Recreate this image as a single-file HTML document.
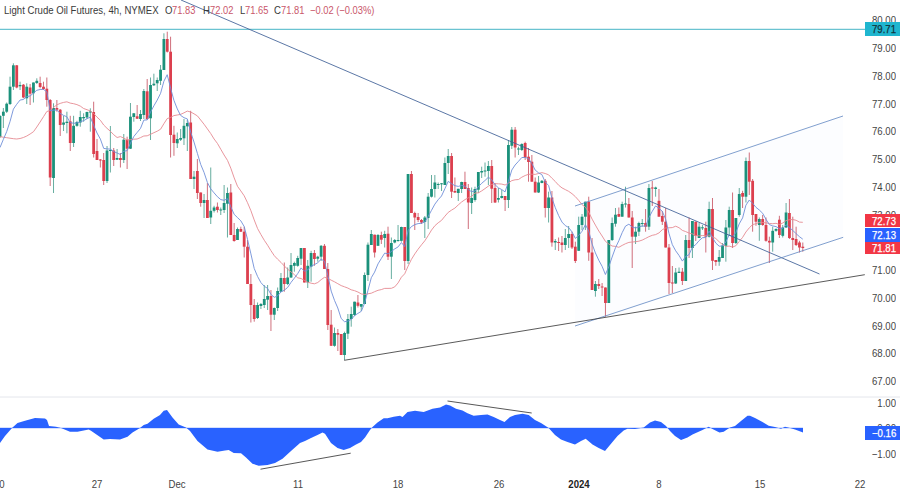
<!DOCTYPE html>
<html><head><meta charset="utf-8"><title>Chart</title>
<style>
html,body{margin:0;padding:0;background:#fff;}
body{width:900px;height:493px;position:relative;overflow:hidden;font-family:"Liberation Sans",sans-serif;color:#3c3c3c;font-size:10.8px;line-height:12px}
.pl{position:absolute;right:4.2px;width:60px;text-align:right;height:12px;color:#444;transform:scaleX(0.888);transform-origin:100% 50%;white-space:nowrap}
.tl{position:absolute;top:478.2px;width:40px;text-align:center;color:#444;transform:scaleX(0.888);transform-origin:50% 50%}
.tl.b{font-weight:bold;color:#222}
.tag{position:absolute;left:865.3px;width:34.7px;color:#fff;overflow:hidden}
.tag span{-webkit-text-stroke:0.25px currentColor;position:absolute;left:6.8px;top:50%;margin-top:-6px;height:12px;white-space:nowrap;transform:scaleX(0.888);transform-origin:0 50%}
.t{position:absolute;top:4px;white-space:nowrap;color:#3a3a3a;transform:scaleX(0.888);transform-origin:0 50%}
.t.r{color:#c9566a;transform:scaleX(0.865)}
</style></head><body>
<svg width="900" height="493" viewBox="0 0 900 493" style="position:absolute;left:0;top:0"><polygon points="575,206 843,116 843.2,237.3 575,326" fill="#2962ff" fill-opacity="0.012"/><line x1="0" y1="29.3" x2="866" y2="29.3" stroke="#45b5c6" stroke-width="1"/><line x1="0" y1="397" x2="900" y2="397" stroke="#e4e6ec" stroke-width="1"/><line x1="0.00" y1="115.0" x2="0.00" y2="138.0" stroke="#3f9886" stroke-width="0.8"/><rect x="-1.40" y="116.0" width="2.8" height="21.0" fill="#1b917b"/><line x1="3.35" y1="108.0" x2="3.35" y2="128.0" stroke="#3f9886" stroke-width="0.8"/><rect x="1.95" y="111.7" width="2.8" height="4.1" fill="#1b917b"/><line x1="6.69" y1="102.5" x2="6.69" y2="113.0" stroke="#3f9886" stroke-width="0.8"/><rect x="5.29" y="103.7" width="2.8" height="8.0" fill="#1b917b"/><line x1="10.04" y1="76.7" x2="10.04" y2="105.0" stroke="#3f9886" stroke-width="0.8"/><rect x="8.63" y="86.7" width="2.8" height="17.3" fill="#1b917b"/><line x1="13.38" y1="63.3" x2="13.38" y2="90.0" stroke="#3f9886" stroke-width="0.8"/><rect x="11.98" y="65.3" width="2.8" height="21.4" fill="#1b917b"/><line x1="16.73" y1="65.0" x2="16.73" y2="88.3" stroke="#c44a5a" stroke-width="0.8"/><rect x="15.33" y="65.3" width="2.8" height="22.2" fill="#dc3f4e"/><line x1="20.07" y1="81.7" x2="20.07" y2="90.0" stroke="#3f9886" stroke-width="0.8"/><rect x="18.67" y="85.0" width="2.8" height="1.3" fill="#1b917b"/><line x1="23.42" y1="84.0" x2="23.42" y2="98.3" stroke="#c44a5a" stroke-width="0.8"/><rect x="22.02" y="84.7" width="2.8" height="12.8" fill="#dc3f4e"/><line x1="26.76" y1="83.3" x2="26.76" y2="104.0" stroke="#3f9886" stroke-width="0.8"/><rect x="25.36" y="86.7" width="2.8" height="11.6" fill="#1b917b"/><line x1="30.11" y1="84.0" x2="30.11" y2="105.0" stroke="#c44a5a" stroke-width="0.8"/><rect x="28.71" y="87.5" width="2.8" height="6.2" fill="#dc3f4e"/><line x1="33.45" y1="82.5" x2="33.45" y2="102.5" stroke="#3f9886" stroke-width="0.8"/><rect x="32.05" y="82.5" width="2.8" height="10.8" fill="#1b917b"/><line x1="36.80" y1="78.3" x2="36.80" y2="84.0" stroke="#3f9886" stroke-width="0.8"/><rect x="35.40" y="80.8" width="2.8" height="2.2" fill="#1b917b"/><line x1="40.14" y1="76.7" x2="40.14" y2="88.3" stroke="#c44a5a" stroke-width="0.8"/><rect x="38.74" y="83.0" width="2.8" height="4.0" fill="#dc3f4e"/><line x1="43.48" y1="81.7" x2="43.48" y2="90.0" stroke="#c44a5a" stroke-width="0.8"/><rect x="42.09" y="86.7" width="2.8" height="2.3" fill="#dc3f4e"/><line x1="46.83" y1="77.5" x2="46.83" y2="106.7" stroke="#c44a5a" stroke-width="0.8"/><rect x="45.43" y="88.7" width="2.8" height="11.3" fill="#dc3f4e"/><line x1="50.18" y1="99.0" x2="50.18" y2="186.0" stroke="#c44a5a" stroke-width="0.8"/><rect x="48.78" y="100.0" width="2.8" height="77.5" fill="#dc3f4e"/><line x1="53.52" y1="103.3" x2="53.52" y2="193.0" stroke="#3f9886" stroke-width="0.8"/><rect x="52.12" y="108.0" width="2.8" height="70.0" fill="#1b917b"/><line x1="56.87" y1="100.0" x2="56.87" y2="111.7" stroke="#c44a5a" stroke-width="0.8"/><rect x="55.47" y="108.0" width="2.8" height="1.7" fill="#dc3f4e"/><line x1="60.21" y1="109.0" x2="60.21" y2="136.0" stroke="#c44a5a" stroke-width="0.8"/><rect x="58.81" y="109.7" width="2.8" height="15.3" fill="#dc3f4e"/><line x1="63.56" y1="115.8" x2="63.56" y2="131.0" stroke="#3f9886" stroke-width="0.8"/><rect x="62.16" y="122.5" width="2.8" height="2.2" fill="#1b917b"/><line x1="66.90" y1="111.7" x2="66.90" y2="133.3" stroke="#3f9886" stroke-width="0.8"/><rect x="65.50" y="121.7" width="2.8" height="1.3" fill="#1b917b"/><line x1="70.25" y1="115.8" x2="70.25" y2="151.0" stroke="#c44a5a" stroke-width="0.8"/><rect x="68.84" y="121.3" width="2.8" height="21.7" fill="#dc3f4e"/><line x1="73.59" y1="115.8" x2="73.59" y2="147.0" stroke="#3f9886" stroke-width="0.8"/><rect x="72.19" y="125.8" width="2.8" height="17.2" fill="#1b917b"/><line x1="76.94" y1="120.8" x2="76.94" y2="126.7" stroke="#3f9886" stroke-width="0.8"/><rect x="75.53" y="122.0" width="2.8" height="3.8" fill="#1b917b"/><line x1="80.28" y1="110.8" x2="80.28" y2="126.7" stroke="#3f9886" stroke-width="0.8"/><rect x="78.88" y="117.0" width="2.8" height="5.5" fill="#1b917b"/><line x1="83.62" y1="113.3" x2="83.62" y2="121.7" stroke="#3f9886" stroke-width="0.8"/><rect x="82.22" y="117.0" width="2.8" height="1.3" fill="#1b917b"/><line x1="86.97" y1="111.7" x2="86.97" y2="119.0" stroke="#3f9886" stroke-width="0.8"/><rect x="85.57" y="112.0" width="2.8" height="5.5" fill="#1b917b"/><line x1="90.32" y1="108.3" x2="90.32" y2="131.7" stroke="#3f9886" stroke-width="0.8"/><rect x="88.92" y="111.5" width="2.8" height="1.0" fill="#1b917b"/><line x1="93.66" y1="101.7" x2="93.66" y2="157.5" stroke="#c44a5a" stroke-width="0.8"/><rect x="92.26" y="112.0" width="2.8" height="42.0" fill="#dc3f4e"/><line x1="97.01" y1="139.0" x2="97.01" y2="160.0" stroke="#c44a5a" stroke-width="0.8"/><rect x="95.61" y="151.0" width="2.8" height="9.0" fill="#dc3f4e"/><line x1="100.35" y1="159.0" x2="100.35" y2="167.5" stroke="#c44a5a" stroke-width="0.8"/><rect x="98.95" y="159.5" width="2.8" height="1.0" fill="#dc3f4e"/><line x1="103.70" y1="153.0" x2="103.70" y2="185.0" stroke="#c44a5a" stroke-width="0.8"/><rect x="102.30" y="160.0" width="2.8" height="21.0" fill="#dc3f4e"/><line x1="107.04" y1="146.0" x2="107.04" y2="183.0" stroke="#3f9886" stroke-width="0.8"/><rect x="105.64" y="150.5" width="2.8" height="30.5" fill="#1b917b"/><line x1="110.39" y1="126.0" x2="110.39" y2="172.5" stroke="#3f9886" stroke-width="0.8"/><rect x="108.98" y="150.0" width="2.8" height="1.0" fill="#1b917b"/><line x1="113.73" y1="148.0" x2="113.73" y2="166.0" stroke="#c44a5a" stroke-width="0.8"/><rect x="112.33" y="150.5" width="2.8" height="9.5" fill="#dc3f4e"/><line x1="117.08" y1="149.0" x2="117.08" y2="160.0" stroke="#3f9886" stroke-width="0.8"/><rect x="115.67" y="158.0" width="2.8" height="1.7" fill="#1b917b"/><line x1="120.42" y1="153.0" x2="120.42" y2="167.5" stroke="#c44a5a" stroke-width="0.8"/><rect x="119.02" y="158.0" width="2.8" height="2.0" fill="#dc3f4e"/><line x1="123.77" y1="134.0" x2="123.77" y2="163.0" stroke="#3f9886" stroke-width="0.8"/><rect x="122.36" y="139.7" width="2.8" height="20.3" fill="#1b917b"/><line x1="127.11" y1="136.7" x2="127.11" y2="169.0" stroke="#c44a5a" stroke-width="0.8"/><rect x="125.71" y="139.7" width="2.8" height="9.0" fill="#dc3f4e"/><line x1="130.46" y1="103.0" x2="130.46" y2="149.0" stroke="#3f9886" stroke-width="0.8"/><rect x="129.06" y="116.7" width="2.8" height="32.0" fill="#1b917b"/><line x1="133.80" y1="113.0" x2="133.80" y2="121.7" stroke="#3f9886" stroke-width="0.8"/><rect x="132.40" y="113.3" width="2.8" height="3.7" fill="#1b917b"/><line x1="137.15" y1="105.0" x2="137.15" y2="119.0" stroke="#c44a5a" stroke-width="0.8"/><rect x="135.75" y="116.3" width="2.8" height="2.4" fill="#dc3f4e"/><line x1="140.49" y1="110.0" x2="140.49" y2="121.0" stroke="#3f9886" stroke-width="0.8"/><rect x="139.09" y="114.0" width="2.8" height="5.0" fill="#1b917b"/><line x1="143.84" y1="89.0" x2="143.84" y2="119.0" stroke="#3f9886" stroke-width="0.8"/><rect x="142.44" y="91.0" width="2.8" height="24.0" fill="#1b917b"/><line x1="147.18" y1="79.0" x2="147.18" y2="120.0" stroke="#c44a5a" stroke-width="0.8"/><rect x="145.78" y="91.3" width="2.8" height="27.7" fill="#dc3f4e"/><line x1="150.53" y1="77.5" x2="150.53" y2="140.0" stroke="#3f9886" stroke-width="0.8"/><rect x="149.12" y="85.0" width="2.8" height="33.3" fill="#1b917b"/><line x1="153.87" y1="73.7" x2="153.87" y2="86.0" stroke="#3f9886" stroke-width="0.8"/><rect x="152.47" y="83.7" width="2.8" height="1.6" fill="#1b917b"/><line x1="157.22" y1="77.5" x2="157.22" y2="91.0" stroke="#3f9886" stroke-width="0.8"/><rect x="155.81" y="80.0" width="2.8" height="3.3" fill="#1b917b"/><line x1="160.56" y1="65.0" x2="160.56" y2="85.0" stroke="#3f9886" stroke-width="0.8"/><rect x="159.16" y="69.7" width="2.8" height="11.1" fill="#1b917b"/><line x1="163.91" y1="33.3" x2="163.91" y2="70.0" stroke="#3f9886" stroke-width="0.8"/><rect x="162.50" y="39.0" width="2.8" height="31.0" fill="#1b917b"/><line x1="167.25" y1="31.7" x2="167.25" y2="52.5" stroke="#c44a5a" stroke-width="0.8"/><rect x="165.85" y="39.0" width="2.8" height="12.7" fill="#dc3f4e"/><line x1="170.59" y1="36.7" x2="170.59" y2="157.5" stroke="#c44a5a" stroke-width="0.8"/><rect x="169.19" y="51.7" width="2.8" height="83.3" fill="#dc3f4e"/><line x1="173.94" y1="125.8" x2="173.94" y2="155.8" stroke="#c44a5a" stroke-width="0.8"/><rect x="172.54" y="134.7" width="2.8" height="8.3" fill="#dc3f4e"/><line x1="177.28" y1="132.5" x2="177.28" y2="148.0" stroke="#3f9886" stroke-width="0.8"/><rect x="175.88" y="139.0" width="2.8" height="4.3" fill="#1b917b"/><line x1="180.63" y1="129.0" x2="180.63" y2="141.0" stroke="#3f9886" stroke-width="0.8"/><rect x="179.23" y="138.0" width="2.8" height="1.7" fill="#1b917b"/><line x1="183.98" y1="119.0" x2="183.98" y2="145.0" stroke="#3f9886" stroke-width="0.8"/><rect x="182.58" y="125.8" width="2.8" height="12.5" fill="#1b917b"/><line x1="187.32" y1="120.0" x2="187.32" y2="151.0" stroke="#3f9886" stroke-width="0.8"/><rect x="185.92" y="123.0" width="2.8" height="3.3" fill="#1b917b"/><line x1="190.67" y1="110.8" x2="190.67" y2="179.0" stroke="#c44a5a" stroke-width="0.8"/><rect x="189.27" y="122.5" width="2.8" height="56.5" fill="#dc3f4e"/><line x1="194.01" y1="171.0" x2="194.01" y2="189.0" stroke="#3f9886" stroke-width="0.8"/><rect x="192.61" y="176.7" width="2.8" height="2.3" fill="#1b917b"/><line x1="197.36" y1="159.0" x2="197.36" y2="199.0" stroke="#c44a5a" stroke-width="0.8"/><rect x="195.96" y="171.0" width="2.8" height="22.0" fill="#dc3f4e"/><line x1="200.70" y1="192.5" x2="200.70" y2="206.7" stroke="#c44a5a" stroke-width="0.8"/><rect x="199.30" y="192.5" width="2.8" height="10.5" fill="#dc3f4e"/><line x1="204.05" y1="194.0" x2="204.05" y2="218.0" stroke="#3f9886" stroke-width="0.8"/><rect x="202.65" y="200.0" width="2.8" height="3.0" fill="#1b917b"/><line x1="207.39" y1="183.0" x2="207.39" y2="218.0" stroke="#c44a5a" stroke-width="0.8"/><rect x="205.99" y="200.0" width="2.8" height="18.0" fill="#dc3f4e"/><line x1="210.74" y1="167.5" x2="210.74" y2="224.0" stroke="#3f9886" stroke-width="0.8"/><rect x="209.34" y="210.8" width="2.8" height="6.7" fill="#1b917b"/><line x1="214.08" y1="205.8" x2="214.08" y2="212.5" stroke="#3f9886" stroke-width="0.8"/><rect x="212.68" y="207.5" width="2.8" height="3.3" fill="#1b917b"/><line x1="217.43" y1="202.5" x2="217.43" y2="212.5" stroke="#c44a5a" stroke-width="0.8"/><rect x="216.03" y="206.7" width="2.8" height="3.3" fill="#dc3f4e"/><line x1="220.77" y1="207.5" x2="220.77" y2="215.0" stroke="#3f9886" stroke-width="0.8"/><rect x="219.37" y="209.5" width="2.8" height="1.0" fill="#1b917b"/><line x1="224.12" y1="185.0" x2="224.12" y2="213.0" stroke="#3f9886" stroke-width="0.8"/><rect x="222.72" y="203.0" width="2.8" height="7.0" fill="#1b917b"/><line x1="227.46" y1="187.5" x2="227.46" y2="237.5" stroke="#3f9886" stroke-width="0.8"/><rect x="226.06" y="193.0" width="2.8" height="10.7" fill="#1b917b"/><line x1="230.81" y1="184.0" x2="230.81" y2="235.0" stroke="#c44a5a" stroke-width="0.8"/><rect x="229.41" y="192.5" width="2.8" height="42.5" fill="#dc3f4e"/><line x1="234.15" y1="223.0" x2="234.15" y2="241.7" stroke="#c44a5a" stroke-width="0.8"/><rect x="232.75" y="235.0" width="2.8" height="6.0" fill="#dc3f4e"/><line x1="237.50" y1="227.5" x2="237.50" y2="240.0" stroke="#3f9886" stroke-width="0.8"/><rect x="236.09" y="229.0" width="2.8" height="11.0" fill="#1b917b"/><line x1="240.84" y1="226.7" x2="240.84" y2="232.0" stroke="#c44a5a" stroke-width="0.8"/><rect x="239.44" y="229.0" width="2.8" height="2.7" fill="#dc3f4e"/><line x1="244.19" y1="226.7" x2="244.19" y2="257.5" stroke="#c44a5a" stroke-width="0.8"/><rect x="242.78" y="231.7" width="2.8" height="15.0" fill="#dc3f4e"/><line x1="247.53" y1="240.0" x2="247.53" y2="284.0" stroke="#c44a5a" stroke-width="0.8"/><rect x="246.13" y="246.7" width="2.8" height="37.3" fill="#dc3f4e"/><line x1="250.88" y1="274.0" x2="250.88" y2="322.5" stroke="#c44a5a" stroke-width="0.8"/><rect x="249.48" y="284.0" width="2.8" height="21.0" fill="#dc3f4e"/><line x1="254.22" y1="299.0" x2="254.22" y2="321.7" stroke="#c44a5a" stroke-width="0.8"/><rect x="252.82" y="305.0" width="2.8" height="14.0" fill="#dc3f4e"/><line x1="257.56" y1="302.5" x2="257.56" y2="319.0" stroke="#3f9886" stroke-width="0.8"/><rect x="256.17" y="305.0" width="2.8" height="13.0" fill="#1b917b"/><line x1="260.91" y1="303.0" x2="260.91" y2="309.0" stroke="#3f9886" stroke-width="0.8"/><rect x="259.51" y="304.0" width="2.8" height="2.0" fill="#1b917b"/><line x1="264.25" y1="285.0" x2="264.25" y2="308.0" stroke="#3f9886" stroke-width="0.8"/><rect x="262.86" y="299.0" width="2.8" height="6.0" fill="#1b917b"/><line x1="267.60" y1="285.0" x2="267.60" y2="310.0" stroke="#3f9886" stroke-width="0.8"/><rect x="266.20" y="296.0" width="2.8" height="3.7" fill="#1b917b"/><line x1="270.94" y1="290.0" x2="270.94" y2="331.0" stroke="#c44a5a" stroke-width="0.8"/><rect x="269.55" y="296.0" width="2.8" height="18.7" fill="#dc3f4e"/><line x1="274.29" y1="307.5" x2="274.29" y2="320.0" stroke="#3f9886" stroke-width="0.8"/><rect x="272.89" y="308.0" width="2.8" height="6.7" fill="#1b917b"/><line x1="277.63" y1="287.5" x2="277.63" y2="311.0" stroke="#3f9886" stroke-width="0.8"/><rect x="276.24" y="291.0" width="2.8" height="17.0" fill="#1b917b"/><line x1="280.98" y1="273.0" x2="280.98" y2="292.0" stroke="#3f9886" stroke-width="0.8"/><rect x="279.58" y="278.0" width="2.8" height="13.7" fill="#1b917b"/><line x1="284.32" y1="262.5" x2="284.32" y2="291.7" stroke="#c44a5a" stroke-width="0.8"/><rect x="282.93" y="278.0" width="2.8" height="6.0" fill="#dc3f4e"/><line x1="287.67" y1="267.5" x2="287.67" y2="285.0" stroke="#3f9886" stroke-width="0.8"/><rect x="286.27" y="277.5" width="2.8" height="6.5" fill="#1b917b"/><line x1="291.02" y1="253.0" x2="291.02" y2="278.0" stroke="#3f9886" stroke-width="0.8"/><rect x="289.62" y="265.0" width="2.8" height="12.5" fill="#1b917b"/><line x1="294.36" y1="261.7" x2="294.36" y2="271.7" stroke="#3f9886" stroke-width="0.8"/><rect x="292.96" y="263.0" width="2.8" height="2.8" fill="#1b917b"/><line x1="297.71" y1="255.8" x2="297.71" y2="266.7" stroke="#3f9886" stroke-width="0.8"/><rect x="296.31" y="258.0" width="2.8" height="7.8" fill="#1b917b"/><line x1="301.05" y1="248.0" x2="301.05" y2="265.0" stroke="#3f9886" stroke-width="0.8"/><rect x="299.65" y="248.0" width="2.8" height="10.7" fill="#1b917b"/><line x1="304.40" y1="248.0" x2="304.40" y2="282.5" stroke="#c44a5a" stroke-width="0.8"/><rect x="303.00" y="248.0" width="2.8" height="34.5" fill="#dc3f4e"/><line x1="307.74" y1="260.0" x2="307.74" y2="288.0" stroke="#3f9886" stroke-width="0.8"/><rect x="306.34" y="265.8" width="2.8" height="16.7" fill="#1b917b"/><line x1="311.09" y1="250.8" x2="311.09" y2="281.7" stroke="#3f9886" stroke-width="0.8"/><rect x="309.69" y="253.0" width="2.8" height="13.7" fill="#1b917b"/><line x1="314.43" y1="250.0" x2="314.43" y2="265.8" stroke="#c44a5a" stroke-width="0.8"/><rect x="313.03" y="253.0" width="2.8" height="6.0" fill="#dc3f4e"/><line x1="317.78" y1="255.8" x2="317.78" y2="261.7" stroke="#3f9886" stroke-width="0.8"/><rect x="316.38" y="256.7" width="2.8" height="2.0" fill="#1b917b"/><line x1="321.12" y1="245.0" x2="321.12" y2="261.0" stroke="#3f9886" stroke-width="0.8"/><rect x="319.72" y="245.8" width="2.8" height="10.9" fill="#1b917b"/><line x1="324.47" y1="244.0" x2="324.47" y2="269.0" stroke="#c44a5a" stroke-width="0.8"/><rect x="323.07" y="245.8" width="2.8" height="23.2" fill="#dc3f4e"/><line x1="327.81" y1="263.0" x2="327.81" y2="330.0" stroke="#c44a5a" stroke-width="0.8"/><rect x="326.41" y="269.0" width="2.8" height="56.0" fill="#dc3f4e"/><line x1="331.16" y1="310.0" x2="331.16" y2="346.0" stroke="#c44a5a" stroke-width="0.8"/><rect x="329.76" y="324.7" width="2.8" height="21.1" fill="#dc3f4e"/><line x1="334.50" y1="327.5" x2="334.50" y2="346.7" stroke="#3f9886" stroke-width="0.8"/><rect x="333.10" y="333.0" width="2.8" height="12.8" fill="#1b917b"/><line x1="337.85" y1="329.0" x2="337.85" y2="351.0" stroke="#c44a5a" stroke-width="0.8"/><rect x="336.45" y="333.0" width="2.8" height="1.7" fill="#dc3f4e"/><line x1="341.19" y1="334.0" x2="341.19" y2="355.0" stroke="#c44a5a" stroke-width="0.8"/><rect x="339.79" y="334.0" width="2.8" height="21.0" fill="#dc3f4e"/><line x1="344.54" y1="331.7" x2="344.54" y2="360.0" stroke="#3f9886" stroke-width="0.8"/><rect x="343.14" y="333.0" width="2.8" height="22.0" fill="#1b917b"/><line x1="347.88" y1="314.0" x2="347.88" y2="339.0" stroke="#3f9886" stroke-width="0.8"/><rect x="346.48" y="319.0" width="2.8" height="14.7" fill="#1b917b"/><line x1="351.23" y1="306.7" x2="351.23" y2="326.7" stroke="#3f9886" stroke-width="0.8"/><rect x="349.83" y="314.0" width="2.8" height="5.0" fill="#1b917b"/><line x1="354.57" y1="301.7" x2="354.57" y2="316.0" stroke="#3f9886" stroke-width="0.8"/><rect x="353.17" y="301.7" width="2.8" height="13.3" fill="#1b917b"/><line x1="357.92" y1="295.0" x2="357.92" y2="307.5" stroke="#c44a5a" stroke-width="0.8"/><rect x="356.52" y="302.5" width="2.8" height="3.3" fill="#dc3f4e"/><line x1="361.26" y1="304.0" x2="361.26" y2="311.0" stroke="#3f9886" stroke-width="0.8"/><rect x="359.86" y="304.0" width="2.8" height="2.7" fill="#1b917b"/><line x1="364.61" y1="272.5" x2="364.61" y2="304.0" stroke="#3f9886" stroke-width="0.8"/><rect x="363.21" y="275.0" width="2.8" height="29.0" fill="#1b917b"/><line x1="367.95" y1="242.5" x2="367.95" y2="281.0" stroke="#3f9886" stroke-width="0.8"/><rect x="366.55" y="244.7" width="2.8" height="30.3" fill="#1b917b"/><line x1="371.30" y1="230.0" x2="371.30" y2="245.0" stroke="#3f9886" stroke-width="0.8"/><rect x="369.90" y="234.0" width="2.8" height="11.0" fill="#1b917b"/><line x1="374.64" y1="234.7" x2="374.64" y2="257.5" stroke="#c44a5a" stroke-width="0.8"/><rect x="373.24" y="234.7" width="2.8" height="17.8" fill="#dc3f4e"/><line x1="377.99" y1="234.0" x2="377.99" y2="245.8" stroke="#3f9886" stroke-width="0.8"/><rect x="376.59" y="235.0" width="2.8" height="10.8" fill="#1b917b"/><line x1="381.33" y1="231.7" x2="381.33" y2="244.0" stroke="#c44a5a" stroke-width="0.8"/><rect x="379.93" y="235.0" width="2.8" height="4.7" fill="#dc3f4e"/><line x1="384.68" y1="230.8" x2="384.68" y2="247.5" stroke="#3f9886" stroke-width="0.8"/><rect x="383.28" y="234.0" width="2.8" height="4.0" fill="#1b917b"/><line x1="388.02" y1="226.7" x2="388.02" y2="260.0" stroke="#c44a5a" stroke-width="0.8"/><rect x="386.62" y="233.7" width="2.8" height="23.0" fill="#dc3f4e"/><line x1="391.37" y1="237.5" x2="391.37" y2="279.0" stroke="#3f9886" stroke-width="0.8"/><rect x="389.97" y="243.0" width="2.8" height="13.7" fill="#1b917b"/><line x1="394.71" y1="239.0" x2="394.71" y2="243.3" stroke="#3f9886" stroke-width="0.8"/><rect x="393.31" y="240.0" width="2.8" height="2.5" fill="#1b917b"/><line x1="398.06" y1="225.0" x2="398.06" y2="241.7" stroke="#3f9886" stroke-width="0.8"/><rect x="396.66" y="240.0" width="2.8" height="1.0" fill="#1b917b"/><line x1="401.40" y1="226.7" x2="401.40" y2="241.7" stroke="#3f9886" stroke-width="0.8"/><rect x="400.00" y="227.0" width="2.8" height="13.8" fill="#1b917b"/><line x1="404.75" y1="227.0" x2="404.75" y2="270.0" stroke="#c44a5a" stroke-width="0.8"/><rect x="403.35" y="227.0" width="2.8" height="34.0" fill="#dc3f4e"/><line x1="408.09" y1="174.0" x2="408.09" y2="264.0" stroke="#3f9886" stroke-width="0.8"/><rect x="406.69" y="174.0" width="2.8" height="87.0" fill="#1b917b"/><line x1="411.44" y1="171.0" x2="411.44" y2="213.0" stroke="#c44a5a" stroke-width="0.8"/><rect x="410.04" y="174.0" width="2.8" height="39.0" fill="#dc3f4e"/><line x1="414.78" y1="211.7" x2="414.78" y2="230.0" stroke="#c44a5a" stroke-width="0.8"/><rect x="413.38" y="213.0" width="2.8" height="4.5" fill="#dc3f4e"/><line x1="418.12" y1="213.0" x2="418.12" y2="222.0" stroke="#c44a5a" stroke-width="0.8"/><rect x="416.73" y="217.0" width="2.8" height="3.0" fill="#dc3f4e"/><line x1="421.47" y1="219.0" x2="421.47" y2="224.0" stroke="#c44a5a" stroke-width="0.8"/><rect x="420.07" y="220.0" width="2.8" height="2.5" fill="#dc3f4e"/><line x1="424.81" y1="216.0" x2="424.81" y2="238.0" stroke="#3f9886" stroke-width="0.8"/><rect x="423.42" y="217.5" width="2.8" height="4.5" fill="#1b917b"/><line x1="428.16" y1="193.0" x2="428.16" y2="229.0" stroke="#3f9886" stroke-width="0.8"/><rect x="426.76" y="196.7" width="2.8" height="21.3" fill="#1b917b"/><line x1="431.51" y1="175.0" x2="431.51" y2="197.5" stroke="#3f9886" stroke-width="0.8"/><rect x="430.11" y="189.0" width="2.8" height="7.7" fill="#1b917b"/><line x1="434.85" y1="175.0" x2="434.85" y2="197.5" stroke="#3f9886" stroke-width="0.8"/><rect x="433.45" y="182.5" width="2.8" height="6.5" fill="#1b917b"/><line x1="438.20" y1="182.5" x2="438.20" y2="189.0" stroke="#3f9886" stroke-width="0.8"/><rect x="436.80" y="184.0" width="2.8" height="1.0" fill="#1b917b"/><line x1="441.54" y1="183.0" x2="441.54" y2="191.0" stroke="#3f9886" stroke-width="0.8"/><rect x="440.14" y="183.3" width="2.8" height="1.0" fill="#1b917b"/><line x1="444.89" y1="157.5" x2="444.89" y2="185.0" stroke="#3f9886" stroke-width="0.8"/><rect x="443.49" y="163.0" width="2.8" height="22.0" fill="#1b917b"/><line x1="448.23" y1="149.0" x2="448.23" y2="174.0" stroke="#3f9886" stroke-width="0.8"/><rect x="446.83" y="156.0" width="2.8" height="7.0" fill="#1b917b"/><line x1="451.58" y1="153.0" x2="451.58" y2="198.0" stroke="#c44a5a" stroke-width="0.8"/><rect x="450.18" y="156.0" width="2.8" height="35.7" fill="#dc3f4e"/><line x1="454.92" y1="177.5" x2="454.92" y2="193.0" stroke="#c44a5a" stroke-width="0.8"/><rect x="453.52" y="191.0" width="2.8" height="1.5" fill="#dc3f4e"/><line x1="458.27" y1="188.8" x2="458.27" y2="201.0" stroke="#3f9886" stroke-width="0.8"/><rect x="456.87" y="188.8" width="2.8" height="4.2" fill="#1b917b"/><line x1="461.61" y1="181.7" x2="461.61" y2="193.0" stroke="#3f9886" stroke-width="0.8"/><rect x="460.21" y="182.0" width="2.8" height="7.0" fill="#1b917b"/><line x1="464.96" y1="171.7" x2="464.96" y2="189.0" stroke="#c44a5a" stroke-width="0.8"/><rect x="463.56" y="182.0" width="2.8" height="7.0" fill="#dc3f4e"/><line x1="468.30" y1="184.0" x2="468.30" y2="229.0" stroke="#c44a5a" stroke-width="0.8"/><rect x="466.90" y="188.0" width="2.8" height="14.5" fill="#dc3f4e"/><line x1="471.65" y1="187.5" x2="471.65" y2="214.0" stroke="#3f9886" stroke-width="0.8"/><rect x="470.25" y="198.0" width="2.8" height="5.0" fill="#1b917b"/><line x1="474.99" y1="186.7" x2="474.99" y2="201.7" stroke="#3f9886" stroke-width="0.8"/><rect x="473.59" y="189.0" width="2.8" height="11.0" fill="#1b917b"/><line x1="478.34" y1="172.0" x2="478.34" y2="193.0" stroke="#3f9886" stroke-width="0.8"/><rect x="476.94" y="172.0" width="2.8" height="17.7" fill="#1b917b"/><line x1="481.68" y1="166.7" x2="481.68" y2="178.0" stroke="#3f9886" stroke-width="0.8"/><rect x="480.28" y="171.0" width="2.8" height="1.5" fill="#1b917b"/><line x1="485.03" y1="162.5" x2="485.03" y2="176.7" stroke="#3f9886" stroke-width="0.8"/><rect x="483.63" y="170.5" width="2.8" height="1.0" fill="#1b917b"/><line x1="488.37" y1="161.0" x2="488.37" y2="185.0" stroke="#3f9886" stroke-width="0.8"/><rect x="486.97" y="166.0" width="2.8" height="5.0" fill="#1b917b"/><line x1="491.72" y1="160.0" x2="491.72" y2="203.0" stroke="#c44a5a" stroke-width="0.8"/><rect x="490.32" y="166.0" width="2.8" height="22.7" fill="#dc3f4e"/><line x1="495.06" y1="183.0" x2="495.06" y2="203.0" stroke="#c44a5a" stroke-width="0.8"/><rect x="493.66" y="188.0" width="2.8" height="14.5" fill="#dc3f4e"/><line x1="498.41" y1="188.0" x2="498.41" y2="202.5" stroke="#3f9886" stroke-width="0.8"/><rect x="497.01" y="198.0" width="2.8" height="1.7" fill="#1b917b"/><line x1="501.75" y1="190.0" x2="501.75" y2="198.5" stroke="#3f9886" stroke-width="0.8"/><rect x="500.35" y="196.0" width="2.8" height="2.0" fill="#1b917b"/><line x1="505.10" y1="196.0" x2="505.10" y2="211.0" stroke="#c44a5a" stroke-width="0.8"/><rect x="503.70" y="196.0" width="2.8" height="4.0" fill="#dc3f4e"/><line x1="508.44" y1="140.0" x2="508.44" y2="208.0" stroke="#3f9886" stroke-width="0.8"/><rect x="507.04" y="145.0" width="2.8" height="55.0" fill="#1b917b"/><line x1="511.79" y1="127.0" x2="511.79" y2="149.0" stroke="#3f9886" stroke-width="0.8"/><rect x="510.39" y="129.7" width="2.8" height="16.1" fill="#1b917b"/><line x1="515.13" y1="127.0" x2="515.13" y2="157.5" stroke="#c44a5a" stroke-width="0.8"/><rect x="513.73" y="129.7" width="2.8" height="17.8" fill="#dc3f4e"/><line x1="518.48" y1="146.7" x2="518.48" y2="155.0" stroke="#3f9886" stroke-width="0.8"/><rect x="517.08" y="148.5" width="2.8" height="1.0" fill="#1b917b"/><line x1="521.82" y1="143.3" x2="521.82" y2="151.0" stroke="#3f9886" stroke-width="0.8"/><rect x="520.42" y="144.0" width="2.8" height="6.0" fill="#1b917b"/><line x1="525.17" y1="141.7" x2="525.17" y2="160.0" stroke="#c44a5a" stroke-width="0.8"/><rect x="523.77" y="143.0" width="2.8" height="14.5" fill="#dc3f4e"/><line x1="528.51" y1="148.0" x2="528.51" y2="181.7" stroke="#c44a5a" stroke-width="0.8"/><rect x="527.11" y="156.7" width="2.8" height="5.3" fill="#dc3f4e"/><line x1="531.86" y1="155.0" x2="531.86" y2="181.7" stroke="#c44a5a" stroke-width="0.8"/><rect x="530.46" y="161.7" width="2.8" height="20.0" fill="#dc3f4e"/><line x1="535.20" y1="177.5" x2="535.20" y2="192.5" stroke="#c44a5a" stroke-width="0.8"/><rect x="533.80" y="181.7" width="2.8" height="10.8" fill="#dc3f4e"/><line x1="538.55" y1="176.0" x2="538.55" y2="193.0" stroke="#3f9886" stroke-width="0.8"/><rect x="537.15" y="182.5" width="2.8" height="10.0" fill="#1b917b"/><line x1="541.89" y1="180.0" x2="541.89" y2="183.3" stroke="#3f9886" stroke-width="0.8"/><rect x="540.49" y="180.8" width="2.8" height="2.2" fill="#1b917b"/><line x1="545.24" y1="179.0" x2="545.24" y2="217.5" stroke="#c44a5a" stroke-width="0.8"/><rect x="543.84" y="180.8" width="2.8" height="27.2" fill="#dc3f4e"/><line x1="548.58" y1="191.7" x2="548.58" y2="222.5" stroke="#3f9886" stroke-width="0.8"/><rect x="547.18" y="197.5" width="2.8" height="10.5" fill="#1b917b"/><line x1="551.93" y1="191.0" x2="551.93" y2="246.7" stroke="#c44a5a" stroke-width="0.8"/><rect x="550.53" y="197.5" width="2.8" height="45.0" fill="#dc3f4e"/><line x1="555.27" y1="239.0" x2="555.27" y2="250.0" stroke="#3f9886" stroke-width="0.8"/><rect x="553.87" y="241.0" width="2.8" height="1.5" fill="#1b917b"/><line x1="558.62" y1="237.5" x2="558.62" y2="251.0" stroke="#c44a5a" stroke-width="0.8"/><rect x="557.22" y="242.0" width="2.8" height="1.0" fill="#dc3f4e"/><line x1="561.96" y1="236.0" x2="561.96" y2="252.5" stroke="#c44a5a" stroke-width="0.8"/><rect x="560.56" y="242.5" width="2.8" height="2.5" fill="#dc3f4e"/><line x1="565.31" y1="229.0" x2="565.31" y2="250.0" stroke="#3f9886" stroke-width="0.8"/><rect x="563.91" y="238.0" width="2.8" height="7.0" fill="#1b917b"/><line x1="568.65" y1="226.0" x2="568.65" y2="248.0" stroke="#3f9886" stroke-width="0.8"/><rect x="567.25" y="234.0" width="2.8" height="4.0" fill="#1b917b"/><line x1="572.00" y1="231.7" x2="572.00" y2="249.0" stroke="#c44a5a" stroke-width="0.8"/><rect x="570.60" y="234.0" width="2.8" height="13.5" fill="#dc3f4e"/><line x1="575.34" y1="241.7" x2="575.34" y2="263.0" stroke="#c44a5a" stroke-width="0.8"/><rect x="573.94" y="246.7" width="2.8" height="14.3" fill="#dc3f4e"/><line x1="578.69" y1="216.7" x2="578.69" y2="251.0" stroke="#3f9886" stroke-width="0.8"/><rect x="577.29" y="225.0" width="2.8" height="25.8" fill="#1b917b"/><line x1="582.03" y1="214.0" x2="582.03" y2="230.0" stroke="#3f9886" stroke-width="0.8"/><rect x="580.63" y="216.7" width="2.8" height="8.3" fill="#1b917b"/><line x1="585.38" y1="201.7" x2="585.38" y2="230.0" stroke="#3f9886" stroke-width="0.8"/><rect x="583.98" y="201.7" width="2.8" height="15.0" fill="#1b917b"/><line x1="588.72" y1="196.7" x2="588.72" y2="260.8" stroke="#c44a5a" stroke-width="0.8"/><rect x="587.32" y="201.7" width="2.8" height="50.8" fill="#dc3f4e"/><line x1="592.07" y1="238.0" x2="592.07" y2="290.0" stroke="#c44a5a" stroke-width="0.8"/><rect x="590.67" y="252.5" width="2.8" height="37.5" fill="#dc3f4e"/><line x1="595.41" y1="281.0" x2="595.41" y2="296.7" stroke="#3f9886" stroke-width="0.8"/><rect x="594.01" y="284.0" width="2.8" height="7.0" fill="#1b917b"/><line x1="598.75" y1="279.0" x2="598.75" y2="289.0" stroke="#c44a5a" stroke-width="0.8"/><rect x="597.36" y="284.0" width="2.8" height="2.0" fill="#dc3f4e"/><line x1="602.10" y1="283.0" x2="602.10" y2="296.0" stroke="#c44a5a" stroke-width="0.8"/><rect x="600.70" y="286.5" width="2.8" height="1.0" fill="#dc3f4e"/><line x1="605.45" y1="287.5" x2="605.45" y2="316.7" stroke="#c44a5a" stroke-width="0.8"/><rect x="604.05" y="287.5" width="2.8" height="15.5" fill="#dc3f4e"/><line x1="608.79" y1="240.0" x2="608.79" y2="303.0" stroke="#3f9886" stroke-width="0.8"/><rect x="607.39" y="240.0" width="2.8" height="63.0" fill="#1b917b"/><line x1="612.13" y1="217.5" x2="612.13" y2="241.0" stroke="#3f9886" stroke-width="0.8"/><rect x="610.74" y="223.0" width="2.8" height="17.0" fill="#1b917b"/><line x1="615.48" y1="208.0" x2="615.48" y2="226.7" stroke="#3f9886" stroke-width="0.8"/><rect x="614.08" y="214.7" width="2.8" height="9.0" fill="#1b917b"/><line x1="618.83" y1="207.5" x2="618.83" y2="217.0" stroke="#c44a5a" stroke-width="0.8"/><rect x="617.43" y="214.0" width="2.8" height="2.7" fill="#dc3f4e"/><line x1="622.17" y1="201.7" x2="622.17" y2="216.7" stroke="#3f9886" stroke-width="0.8"/><rect x="620.77" y="204.0" width="2.8" height="12.7" fill="#1b917b"/><line x1="625.51" y1="186.7" x2="625.51" y2="207.5" stroke="#3f9886" stroke-width="0.8"/><rect x="624.12" y="203.5" width="2.8" height="1.0" fill="#1b917b"/><line x1="628.86" y1="198.0" x2="628.86" y2="217.5" stroke="#c44a5a" stroke-width="0.8"/><rect x="627.46" y="204.0" width="2.8" height="13.5" fill="#dc3f4e"/><line x1="632.21" y1="211.0" x2="632.21" y2="268.0" stroke="#c44a5a" stroke-width="0.8"/><rect x="630.81" y="217.5" width="2.8" height="19.2" fill="#dc3f4e"/><line x1="635.55" y1="226.7" x2="635.55" y2="244.0" stroke="#3f9886" stroke-width="0.8"/><rect x="634.15" y="231.7" width="2.8" height="5.0" fill="#1b917b"/><line x1="638.89" y1="221.7" x2="638.89" y2="236.0" stroke="#3f9886" stroke-width="0.8"/><rect x="637.50" y="223.0" width="2.8" height="8.7" fill="#1b917b"/><line x1="642.24" y1="219.0" x2="642.24" y2="226.7" stroke="#3f9886" stroke-width="0.8"/><rect x="640.84" y="223.0" width="2.8" height="1.0" fill="#1b917b"/><line x1="645.59" y1="209.0" x2="645.59" y2="231.7" stroke="#c44a5a" stroke-width="0.8"/><rect x="644.19" y="223.0" width="2.8" height="3.7" fill="#dc3f4e"/><line x1="648.93" y1="184.0" x2="648.93" y2="230.0" stroke="#3f9886" stroke-width="0.8"/><rect x="647.53" y="188.0" width="2.8" height="38.7" fill="#1b917b"/><line x1="652.28" y1="181.0" x2="652.28" y2="206.0" stroke="#c44a5a" stroke-width="0.8"/><rect x="650.88" y="187.5" width="2.8" height="1.0" fill="#dc3f4e"/><line x1="655.62" y1="186.7" x2="655.62" y2="196.7" stroke="#3f9886" stroke-width="0.8"/><rect x="654.22" y="187.5" width="2.8" height="1.5" fill="#1b917b"/><line x1="658.97" y1="189.0" x2="658.97" y2="216.7" stroke="#c44a5a" stroke-width="0.8"/><rect x="657.57" y="200.8" width="2.8" height="15.9" fill="#dc3f4e"/><line x1="662.31" y1="211.0" x2="662.31" y2="225.0" stroke="#c44a5a" stroke-width="0.8"/><rect x="660.91" y="216.0" width="2.8" height="5.7" fill="#dc3f4e"/><line x1="665.66" y1="208.0" x2="665.66" y2="247.5" stroke="#c44a5a" stroke-width="0.8"/><rect x="664.26" y="221.7" width="2.8" height="25.8" fill="#dc3f4e"/><line x1="669.00" y1="244.0" x2="669.00" y2="294.0" stroke="#c44a5a" stroke-width="0.8"/><rect x="667.60" y="247.5" width="2.8" height="35.5" fill="#dc3f4e"/><line x1="672.35" y1="266.0" x2="672.35" y2="293.0" stroke="#c44a5a" stroke-width="0.8"/><rect x="670.95" y="282.5" width="2.8" height="1.0" fill="#dc3f4e"/><line x1="675.69" y1="268.0" x2="675.69" y2="284.0" stroke="#3f9886" stroke-width="0.8"/><rect x="674.29" y="272.5" width="2.8" height="11.0" fill="#1b917b"/><line x1="679.04" y1="267.5" x2="679.04" y2="273.0" stroke="#3f9886" stroke-width="0.8"/><rect x="677.64" y="271.7" width="2.8" height="1.3" fill="#1b917b"/><line x1="682.38" y1="268.0" x2="682.38" y2="285.0" stroke="#c44a5a" stroke-width="0.8"/><rect x="680.98" y="271.7" width="2.8" height="9.3" fill="#dc3f4e"/><line x1="685.73" y1="235.0" x2="685.73" y2="281.0" stroke="#3f9886" stroke-width="0.8"/><rect x="684.33" y="240.0" width="2.8" height="41.0" fill="#1b917b"/><line x1="689.07" y1="217.5" x2="689.07" y2="258.0" stroke="#c44a5a" stroke-width="0.8"/><rect x="687.67" y="240.0" width="2.8" height="8.0" fill="#dc3f4e"/><line x1="692.42" y1="221.0" x2="692.42" y2="258.0" stroke="#3f9886" stroke-width="0.8"/><rect x="691.02" y="221.0" width="2.8" height="27.0" fill="#1b917b"/><line x1="695.76" y1="221.7" x2="695.76" y2="241.0" stroke="#c44a5a" stroke-width="0.8"/><rect x="694.36" y="221.7" width="2.8" height="14.3" fill="#dc3f4e"/><line x1="699.11" y1="223.0" x2="699.11" y2="238.0" stroke="#3f9886" stroke-width="0.8"/><rect x="697.71" y="226.7" width="2.8" height="11.3" fill="#1b917b"/><line x1="702.45" y1="225.0" x2="702.45" y2="230.0" stroke="#3f9886" stroke-width="0.8"/><rect x="701.05" y="227.3" width="2.8" height="1.0" fill="#1b917b"/><line x1="705.80" y1="221.7" x2="705.80" y2="252.5" stroke="#c44a5a" stroke-width="0.8"/><rect x="704.40" y="228.0" width="2.8" height="8.7" fill="#dc3f4e"/><line x1="709.14" y1="201.7" x2="709.14" y2="237.5" stroke="#3f9886" stroke-width="0.8"/><rect x="707.74" y="209.0" width="2.8" height="27.7" fill="#1b917b"/><line x1="712.49" y1="198.0" x2="712.49" y2="270.0" stroke="#c44a5a" stroke-width="0.8"/><rect x="711.09" y="209.0" width="2.8" height="51.8" fill="#dc3f4e"/><line x1="715.83" y1="260.0" x2="715.83" y2="265.8" stroke="#c44a5a" stroke-width="0.8"/><rect x="714.43" y="260.0" width="2.8" height="2.0" fill="#dc3f4e"/><line x1="719.18" y1="250.0" x2="719.18" y2="265.8" stroke="#3f9886" stroke-width="0.8"/><rect x="717.78" y="257.0" width="2.8" height="4.7" fill="#1b917b"/><line x1="722.52" y1="243.0" x2="722.52" y2="258.0" stroke="#3f9886" stroke-width="0.8"/><rect x="721.12" y="245.5" width="2.8" height="12.5" fill="#1b917b"/><line x1="725.87" y1="220.0" x2="725.87" y2="261.7" stroke="#3f9886" stroke-width="0.8"/><rect x="724.47" y="227.5" width="2.8" height="18.3" fill="#1b917b"/><line x1="729.21" y1="206.7" x2="729.21" y2="236.0" stroke="#3f9886" stroke-width="0.8"/><rect x="727.81" y="210.0" width="2.8" height="17.5" fill="#1b917b"/><line x1="732.56" y1="192.5" x2="732.56" y2="248.0" stroke="#c44a5a" stroke-width="0.8"/><rect x="731.16" y="210.0" width="2.8" height="33.0" fill="#dc3f4e"/><line x1="735.90" y1="218.0" x2="735.90" y2="244.0" stroke="#3f9886" stroke-width="0.8"/><rect x="734.50" y="218.0" width="2.8" height="25.0" fill="#1b917b"/><line x1="739.25" y1="188.0" x2="739.25" y2="216.7" stroke="#3f9886" stroke-width="0.8"/><rect x="737.85" y="194.0" width="2.8" height="21.0" fill="#1b917b"/><line x1="742.59" y1="190.8" x2="742.59" y2="208.0" stroke="#c44a5a" stroke-width="0.8"/><rect x="741.19" y="193.0" width="2.8" height="3.7" fill="#dc3f4e"/><line x1="745.94" y1="157.5" x2="745.94" y2="202.5" stroke="#3f9886" stroke-width="0.8"/><rect x="744.54" y="161.0" width="2.8" height="35.7" fill="#1b917b"/><line x1="749.28" y1="152.5" x2="749.28" y2="195.0" stroke="#c44a5a" stroke-width="0.8"/><rect x="747.88" y="161.0" width="2.8" height="20.7" fill="#dc3f4e"/><line x1="752.62" y1="179.0" x2="752.62" y2="231.7" stroke="#c44a5a" stroke-width="0.8"/><rect x="751.23" y="180.8" width="2.8" height="34.2" fill="#dc3f4e"/><line x1="755.97" y1="214.0" x2="755.97" y2="225.8" stroke="#c44a5a" stroke-width="0.8"/><rect x="754.57" y="214.0" width="2.8" height="7.7" fill="#dc3f4e"/><line x1="759.32" y1="217.5" x2="759.32" y2="240.8" stroke="#3f9886" stroke-width="0.8"/><rect x="757.92" y="219.0" width="2.8" height="6.0" fill="#1b917b"/><line x1="762.66" y1="215.0" x2="762.66" y2="225.8" stroke="#c44a5a" stroke-width="0.8"/><rect x="761.26" y="219.0" width="2.8" height="6.0" fill="#dc3f4e"/><line x1="766.00" y1="217.5" x2="766.00" y2="241.7" stroke="#c44a5a" stroke-width="0.8"/><rect x="764.61" y="225.0" width="2.8" height="15.8" fill="#dc3f4e"/><line x1="769.35" y1="236.7" x2="769.35" y2="263.0" stroke="#c44a5a" stroke-width="0.8"/><rect x="767.95" y="240.8" width="2.8" height="1.7" fill="#dc3f4e"/><line x1="772.70" y1="226.7" x2="772.70" y2="251.7" stroke="#3f9886" stroke-width="0.8"/><rect x="771.30" y="230.8" width="2.8" height="11.7" fill="#1b917b"/><line x1="776.04" y1="228.3" x2="776.04" y2="231.7" stroke="#3f9886" stroke-width="0.8"/><rect x="774.64" y="229.0" width="2.8" height="1.8" fill="#1b917b"/><line x1="779.38" y1="215.8" x2="779.38" y2="238.0" stroke="#c44a5a" stroke-width="0.8"/><rect x="777.99" y="219.7" width="2.8" height="15.3" fill="#dc3f4e"/><line x1="782.73" y1="225.0" x2="782.73" y2="237.5" stroke="#3f9886" stroke-width="0.8"/><rect x="781.33" y="227.5" width="2.8" height="8.3" fill="#1b917b"/><line x1="786.08" y1="203.0" x2="786.08" y2="228.0" stroke="#3f9886" stroke-width="0.8"/><rect x="784.68" y="212.5" width="2.8" height="15.0" fill="#1b917b"/><line x1="789.42" y1="199.0" x2="789.42" y2="239.0" stroke="#c44a5a" stroke-width="0.8"/><rect x="788.02" y="213.0" width="2.8" height="25.0" fill="#dc3f4e"/><line x1="792.77" y1="216.7" x2="792.77" y2="250.0" stroke="#c44a5a" stroke-width="0.8"/><rect x="791.37" y="238.0" width="2.8" height="2.0" fill="#dc3f4e"/><line x1="796.11" y1="226.7" x2="796.11" y2="246.0" stroke="#c44a5a" stroke-width="0.8"/><rect x="794.71" y="239.0" width="2.8" height="6.0" fill="#dc3f4e"/><line x1="799.46" y1="240.8" x2="799.46" y2="252.5" stroke="#c44a5a" stroke-width="0.8"/><rect x="798.06" y="242.5" width="2.8" height="5.0" fill="#dc3f4e"/><line x1="802.80" y1="242.5" x2="802.80" y2="251.7" stroke="#c44a5a" stroke-width="0.8"/><rect x="801.40" y="246.7" width="2.8" height="1.3" fill="#dc3f4e"/><path d="M0.0,136.7 L3.3,137.2 L6.7,137.7 L10.0,138.2 L13.4,138.7 L16.7,139.0 L20.1,138.5 L23.4,137.5 L26.8,136.0 L30.1,134.0 L33.5,131.7 L36.8,127.0 L40.1,122.0 L43.5,116.7 L46.8,111.5 L50.2,110.5 L53.5,107.5 L56.9,104.8 L60.2,103.4 L63.6,102.4 L66.9,101.8 L70.2,103.1 L73.6,103.7 L76.9,104.6 L80.3,106.1 L83.6,108.5 L87.0,109.7 L90.3,110.9 L93.7,113.6 L97.0,117.1 L100.4,120.3 L103.7,125.0 L107.0,128.3 L110.4,131.3 L113.7,134.7 L117.1,137.5 L120.4,136.6 L123.8,138.1 L127.1,140.0 L130.5,139.6 L133.8,139.2 L137.1,139.0 L140.5,137.6 L143.8,136.0 L147.2,135.8 L150.5,134.3 L153.9,132.7 L157.2,131.2 L160.6,129.2 L163.9,123.7 L167.2,118.6 L170.6,117.4 L173.9,115.6 L177.3,115.0 L180.6,114.4 L184.0,112.8 L187.3,111.1 L190.7,112.0 L194.0,113.8 L197.4,115.9 L200.7,120.0 L204.0,124.2 L207.4,128.9 L210.7,133.5 L214.1,139.0 L217.4,143.4 L220.8,149.3 L224.1,155.0 L227.5,160.4 L230.8,168.2 L234.2,177.9 L237.5,186.3 L240.8,190.9 L244.2,195.8 L247.5,202.7 L250.9,210.7 L254.2,219.9 L257.6,228.6 L260.9,234.5 L264.3,240.3 L267.6,245.2 L270.9,250.6 L274.3,255.7 L277.6,259.2 L281.0,262.4 L284.3,266.0 L287.7,269.2 L291.0,271.9 L294.4,274.7 L297.7,277.8 L301.1,278.5 L304.4,280.4 L307.7,282.2 L311.1,283.2 L314.4,283.8 L317.8,282.5 L321.1,279.7 L324.5,277.3 L327.8,278.2 L331.2,280.2 L334.5,281.8 L337.8,283.7 L341.2,285.6 L344.5,286.8 L347.9,288.1 L351.2,289.8 L354.6,290.7 L357.9,292.0 L361.3,293.9 L364.6,294.5 L368.0,293.8 L371.3,293.2 L374.6,291.7 L378.0,290.3 L381.3,289.6 L384.7,288.4 L388.0,288.4 L391.4,288.3 L394.7,286.9 L398.1,282.9 L401.4,277.2 L404.7,273.8 L408.1,266.1 L411.4,259.4 L414.8,253.9 L418.1,249.2 L421.5,244.8 L424.8,240.8 L428.2,235.6 L431.5,230.1 L434.9,225.7 L438.2,222.8 L441.5,220.4 L444.9,216.2 L448.2,212.4 L451.6,210.1 L454.9,208.1 L458.3,204.9 L461.6,202.0 L465.0,199.6 L468.3,197.8 L471.6,196.4 L475.0,193.0 L478.3,192.9 L481.7,190.9 L485.0,188.6 L488.4,186.1 L491.7,184.5 L495.1,183.7 L498.4,183.8 L501.8,184.1 L505.1,185.0 L508.4,183.1 L511.8,180.6 L515.1,179.8 L518.5,179.5 L521.8,177.2 L525.2,175.5 L528.5,174.3 L531.9,174.2 L535.2,174.4 L538.5,173.5 L541.9,172.6 L545.2,173.5 L548.6,174.8 L551.9,178.2 L555.3,181.5 L558.6,185.2 L562.0,187.9 L565.3,189.6 L568.6,191.3 L572.0,193.7 L575.3,196.6 L578.7,200.4 L582.0,204.6 L585.4,207.2 L588.7,212.1 L592.1,219.1 L595.4,225.1 L598.8,231.0 L602.1,236.0 L605.4,241.3 L608.8,244.0 L612.1,246.0 L615.5,246.4 L618.8,247.3 L622.2,245.4 L625.5,243.7 L628.9,242.4 L632.2,242.0 L635.6,241.7 L638.9,241.2 L642.2,240.1 L645.6,238.4 L648.9,236.7 L652.3,235.3 L655.6,234.6 L659.0,232.9 L662.3,229.7 L665.7,227.9 L669.0,227.8 L672.3,227.6 L675.7,226.2 L679.0,227.7 L682.4,230.4 L685.7,231.6 L689.1,233.1 L692.4,233.9 L695.8,235.5 L699.1,235.9 L702.5,235.5 L705.8,235.7 L709.1,235.0 L712.5,236.8 L715.8,238.5 L719.2,241.8 L722.5,244.5 L725.9,246.4 L729.2,246.1 L732.6,247.1 L735.9,245.7 L739.2,241.5 L742.6,237.4 L745.9,232.0 L749.3,227.8 L752.6,224.6 L756.0,223.7 L759.3,222.4 L762.7,222.6 L766.0,222.8 L769.4,223.5 L772.7,223.7 L776.0,223.3 L779.4,224.6 L782.7,223.0 L786.1,220.6 L789.4,219.7 L792.8,219.5 L796.1,220.3 L799.5,222.1 L802.8,222.3" fill="none" stroke="#e58a92" stroke-width="0.9"/><path d="M0.0,147.5 L3.3,139.5 L6.7,131.6 L10.0,121.6 L13.4,109.1 L16.7,104.3 L20.1,100.0 L23.4,99.5 L26.8,96.6 L30.1,96.0 L33.5,93.0 L36.8,90.3 L40.1,89.5 L43.5,89.4 L46.8,91.8 L50.2,110.8 L53.5,110.2 L56.9,110.1 L60.2,113.4 L63.6,115.4 L66.9,116.8 L70.2,122.6 L73.6,123.3 L76.9,123.0 L80.3,121.7 L83.6,120.7 L87.0,118.7 L90.3,117.1 L93.7,125.3 L97.0,133.0 L100.4,139.1 L103.7,148.4 L107.0,148.9 L110.4,149.1 L113.7,151.6 L117.1,153.0 L120.4,154.5 L123.8,151.2 L127.1,150.7 L130.5,143.1 L133.8,136.5 L137.1,132.5 L140.5,128.4 L143.8,120.1 L147.2,119.9 L150.5,112.1 L153.9,105.8 L157.2,100.1 L160.6,93.3 L163.9,81.2 L167.2,74.7 L170.6,88.1 L173.9,100.3 L177.3,108.9 L180.6,115.4 L184.0,117.7 L187.3,118.9 L190.7,132.2 L194.0,142.1 L197.4,153.4 L200.7,164.4 L204.0,172.3 L207.4,182.5 L210.7,188.8 L214.1,192.9 L217.4,196.7 L220.8,199.6 L224.1,200.3 L227.5,198.7 L230.8,206.8 L234.2,214.4 L237.5,217.6 L240.8,220.8 L244.2,226.5 L247.5,239.3 L250.9,253.9 L254.2,268.4 L257.6,276.5 L260.9,282.6 L264.3,286.3 L267.6,288.4 L270.9,294.3 L274.3,297.3 L277.6,295.9 L281.0,291.9 L284.3,290.2 L287.7,287.4 L291.0,282.4 L294.4,278.1 L297.7,273.6 L301.1,267.9 L304.4,271.2 L307.7,270.0 L311.1,266.2 L314.4,264.6 L317.8,262.8 L321.1,259.1 L324.5,261.3 L327.8,275.4 L331.2,291.1 L334.5,300.4 L337.8,308.0 L341.2,318.5 L344.5,321.7 L347.9,321.1 L351.2,319.5 L354.6,315.6 L357.9,313.4 L361.3,311.3 L364.6,303.2 L368.0,290.2 L371.3,277.7 L374.6,272.1 L378.0,263.9 L381.3,258.5 L384.7,253.1 L388.0,253.9 L391.4,251.5 L394.7,248.9 L398.1,246.9 L401.4,242.5 L404.7,246.6 L408.1,230.5 L411.4,226.6 L414.8,224.6 L418.1,223.6 L421.5,223.3 L424.8,222.0 L428.2,216.4 L431.5,210.3 L434.9,204.1 L438.2,199.7 L441.5,196.0 L444.9,188.7 L448.2,181.4 L451.6,183.7 L454.9,185.7 L458.3,186.4 L461.6,185.4 L465.0,186.2 L468.3,189.8 L471.6,191.6 L475.0,191.0 L478.3,186.8 L481.7,183.3 L485.0,180.5 L488.4,177.2 L491.7,179.8 L495.1,184.8 L498.4,187.8 L501.8,189.6 L505.1,191.9 L508.4,181.5 L511.8,170.0 L515.1,165.0 L518.5,161.3 L521.8,157.5 L525.2,157.5 L528.5,158.5 L531.9,163.6 L535.2,170.1 L538.5,172.8 L541.9,174.6 L545.2,182.0 L548.6,185.5 L551.9,198.1 L555.3,207.7 L558.6,215.5 L562.0,222.1 L565.3,225.6 L568.6,227.5 L572.0,231.9 L575.3,238.4 L578.7,235.4 L582.0,231.3 L585.4,224.7 L588.7,230.9 L592.1,244.0 L595.4,252.9 L598.8,260.3 L602.1,266.3 L605.4,274.5 L608.8,266.8 L612.1,257.1 L615.5,247.7 L618.8,240.8 L622.2,232.6 L625.5,226.1 L628.9,224.2 L632.2,227.0 L635.6,228.0 L638.9,226.9 L642.2,226.0 L645.6,226.2 L648.9,217.7 L652.3,211.2 L655.6,205.9 L659.0,208.3 L662.3,211.3 L665.7,219.3 L669.0,233.5 L672.3,244.6 L675.7,250.8 L679.0,255.4 L682.4,261.1 L685.7,256.4 L689.1,254.6 L692.4,247.1 L695.8,244.6 L699.1,240.6 L702.5,237.7 L705.8,237.5 L709.1,231.1 L712.5,237.7 L715.8,243.1 L719.2,246.2 L722.5,246.0 L725.9,241.9 L729.2,234.8 L732.6,236.6 L735.9,232.5 L739.2,223.9 L742.6,217.9 L745.9,205.2 L749.3,200.0 L752.6,203.3 L756.0,207.4 L759.3,210.0 L762.7,213.3 L766.0,219.4 L769.4,224.6 L772.7,225.9 L776.0,226.6 L779.4,228.5 L782.7,228.3 L786.1,224.8 L789.4,227.7 L792.8,230.4 L796.1,233.7 L799.5,236.7 L802.8,239.2" fill="none" stroke="#6f8fd8" stroke-width="0.9"/><line x1="181" y1="0" x2="819.5" y2="274" stroke="#3d5f96" stroke-width="0.85"/><line x1="575" y1="206" x2="843" y2="116" stroke="#5f86c2" stroke-width="0.8"/><line x1="575" y1="326" x2="843.2" y2="237.3" stroke="#5f86c2" stroke-width="0.8"/><line x1="344.2" y1="360.3" x2="864.8" y2="274.7" stroke="#303030" stroke-width="0.8"/><polygon points="0,428 0.0,443.0 5.0,436.0 12.0,428.0 17.5,423.0 25.0,420.8 35.0,418.0 45.0,418.5 47.0,420.0 49.0,426.0 56.0,426.7 61.0,428.0 70.0,431.7 77.5,431.7 88.7,429.5 91.0,430.7 103.7,439.5 110.0,439.0 120.0,439.5 127.5,436.7 132.5,432.5 140.0,428.0 143.7,425.0 147.5,423.7 153.7,418.7 160.0,415.0 163.7,410.7 167.0,410.0 172.5,417.5 178.7,424.5 186.0,427.5 190.0,431.0 197.5,441.0 207.5,449.5 217.5,451.7 225.0,450.5 228.7,450.0 233.7,453.0 241.0,453.2 246.0,457.5 252.5,463.7 258.7,465.7 267.5,465.0 275.0,463.0 282.5,458.7 291.0,451.0 300.0,443.0 305.0,441.0 311.0,438.0 317.5,435.0 322.5,432.5 325.0,433.7 331.0,443.0 337.5,448.0 343.7,450.0 350.0,448.0 356.0,444.5 361.0,442.0 365.0,437.5 370.0,430.0 372.5,427.0 377.5,422.5 383.7,418.2 387.5,418.2 393.7,416.7 400.0,415.7 402.5,417.0 407.5,412.0 415.0,410.7 423.7,412.0 432.5,408.7 440.0,407.5 446.0,404.5 450.0,405.5 456.0,408.7 462.5,410.5 467.5,413.2 473.7,415.7 481.0,415.0 487.5,414.5 493.7,417.0 500.0,420.0 504.5,422.0 510.0,417.0 515.0,415.0 522.5,413.7 528.7,415.0 535.0,420.0 541.0,423.0 548.7,428.0 555.0,435.0 561.0,439.5 567.5,442.0 575.0,444.5 581.0,441.0 585.7,438.7 592.5,444.5 598.7,448.0 605.0,451.0 611.0,443.7 617.5,436.0 623.7,430.5 627.5,428.7 635.0,429.0 643.7,427.5 650.0,422.5 655.0,420.5 661.0,422.0 666.0,426.0 670.0,431.0 675.0,436.0 681.0,440.0 687.5,437.5 692.5,434.5 702.5,430.0 708.7,426.7 712.5,429.0 719.5,432.5 723.7,431.7 730.0,427.5 735.0,426.0 741.0,421.0 747.5,415.7 750.0,415.7 755.0,418.0 762.5,422.0 768.7,425.7 775.0,427.0 781.0,428.7 785.0,426.7 790.0,428.0 795.0,429.5 803.0,432.5 803,428" fill="#2962FF"/><line x1="0" y1="428" x2="803" y2="428" stroke="#2962FF" stroke-width="0.4"/><line x1="260.5" y1="469.2" x2="350.7" y2="453.2" stroke="#444" stroke-width="0.9"/><line x1="447.5" y1="401" x2="531.7" y2="413" stroke="#444" stroke-width="0.9"/></svg>
<span class="t " style="left:4px">Light Crude Oil Futures, 4h, NYMEX</span><span class="t " style="left:165px">O</span><span class="t r" style="left:172.3px">71.83</span><span class="t " style="left:203px">H</span><span class="t r" style="left:210.2px">72.02</span><span class="t " style="left:239.5px">L</span><span class="t r" style="left:244.6px">71.65</span><span class="t " style="left:274px">C</span><span class="t r" style="left:280.6px">71.81</span><span class="t r" style="left:310px">−0.02 (−0.03%)</span>
<div class="pl" style="top:14.46px">80.00</div><div class="pl" style="top:42.20px">79.00</div><div class="pl" style="top:69.94px">78.00</div><div class="pl" style="top:97.68px">77.00</div><div class="pl" style="top:125.42px">76.00</div><div class="pl" style="top:153.16px">75.00</div><div class="pl" style="top:180.90px">74.00</div><div class="pl" style="top:208.64px">73.00</div><div class="pl" style="top:236.38px">72.00</div><div class="pl" style="top:264.12px">71.00</div><div class="pl" style="top:291.86px">70.00</div><div class="pl" style="top:319.60px">69.00</div><div class="pl" style="top:347.34px">68.00</div><div class="pl" style="top:375.08px">67.00</div><div class="pl" style="top:397.13px">1.00</div><div class="pl" style="top:422.13px">0.00</div><div class="pl" style="top:447.83px">−1.00</div>
<div class="tl" style="left:-18.5px">0</div><div class="tl" style="left:76.5px">27</div><div class="tl" style="left:157px">Dec</div><div class="tl" style="left:277.5px">11</div><div class="tl" style="left:378px">18</div><div class="tl" style="left:478.5px">26</div><div class="tl b" style="left:558.7px">2024</div><div class="tl" style="left:639px">8</div><div class="tl" style="left:740px">15</div><div class="tl" style="left:840px">22</div>
<div class="tag" style="top:22.3px;height:13.4px;background:#1fb6cf;color:#12343c"><span>79.71</span></div>
<div class="tag" style="top:213.8px;height:13.7px;background:#F23645"><span>72.73</span></div>
<div class="tag" style="top:227.5px;height:14px;background:#2962FF"><span>72.13</span></div>
<div class="tag" style="top:241.5px;height:12.8px;background:#F23645"><span>71.81</span></div>
<div class="tag" style="top:426px;height:13.5px;background:#2962FF"><span>−0.16</span></div>
</body></html>
